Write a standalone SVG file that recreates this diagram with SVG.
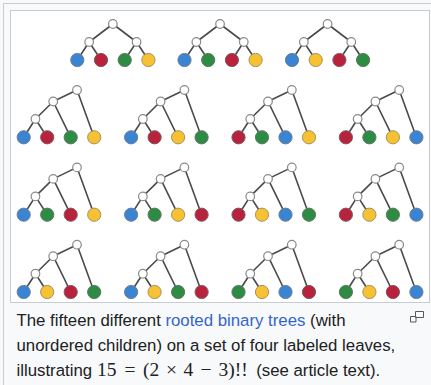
<svg xmlns="http://www.w3.org/2000/svg" width="431" height="385" viewBox="0 0 431 385">
<style>
.bg{fill:#f8f9fa;}
.outer{fill:#f8f9fa;stroke:#c8ccd1;stroke-width:1;}
.frame{fill:#ffffff;stroke:#c8ccd1;stroke-width:1;}
.edge{fill:none;stroke:#4a4a4a;stroke-width:1.6;stroke-linejoin:round;stroke-linecap:round;}
.in{fill:#ffffff;stroke:#8a8a8a;stroke-width:1.2;}
.B{fill:#3a84d4;stroke:#6f7f90;stroke-width:1;}
.R{fill:#b8223c;stroke:#7f5a60;stroke-width:1;}
.G{fill:#2e8b44;stroke:#5d7a62;stroke-width:1;}
.Y{fill:#f6c232;stroke:#a89060;stroke-width:1;}
.cap{font-family:"Liberation Sans",Arial,sans-serif;font-size:16.8px;fill:#202122;}
.link{fill:#3366cc;}
.math{font-family:"Liberation Serif","Times New Roman",serif;font-size:19.5px;}
.icon{fill:none;stroke:#54595d;stroke-width:1;}
</style>
<rect class="bg" x="0" y="0" width="431" height="385"/>
<rect class="outer" x="3.5" y="3.5" width="440" height="400"/>
<rect class="frame" x="10.5" y="10.5" width="419" height="292"/>

<g id="connectors">
<path class="edge" d="M77.3,60 L89.15,42 L101,60 M124.7,60 L136.55,42 L148.4,60 M89.15,42 L112.85,24 L136.55,42"/>
<path class="edge" d="M184.5,60 L196.35,42 L208.2,60 M231.9,60 L243.75,42 L255.6,60 M196.35,42 L220.05,24 L243.75,42"/>
<path class="edge" d="M292,60 L303.85,42 L315.7,60 M339.4,60 L351.25,42 L363.1,60 M303.85,42 L327.55,24 L351.25,42"/>

<path class="edge" d="M23.7,137.3 L35.45,119 L47.2,137.3 M35.45,119 L53.2,101.5 L70.7,137.3 M53.2,101.5 L77,90 L94.2,137.3"/>
<path class="edge" d="M131.1,137.3 L142.85,119 L154.6,137.3 M142.85,119 L160.6,101.5 L178.1,137.3 M160.6,101.5 L184.4,90 L201.6,137.3"/>
<path class="edge" d="M238.5,137.3 L250.25,119 L262,137.3 M250.25,119 L268,101.5 L285.5,137.3 M268,101.5 L291.8,90 L309,137.3"/>
<path class="edge" d="M345.9,137.3 L357.65,119 L369.4,137.3 M357.65,119 L375.4,101.5 L392.9,137.3 M375.4,101.5 L399.2,90 L416.4,137.3"/>

<path class="edge" d="M23.7,214.7 L35.45,196.4 L47.2,214.7 M35.45,196.4 L53.2,178.9 L70.7,214.7 M53.2,178.9 L77,167.4 L94.2,214.7"/>
<path class="edge" d="M131.1,214.7 L142.85,196.4 L154.6,214.7 M142.85,196.4 L160.6,178.9 L178.1,214.7 M160.6,178.9 L184.4,167.4 L201.6,214.7"/>
<path class="edge" d="M238.5,214.7 L250.25,196.4 L262,214.7 M250.25,196.4 L268,178.9 L285.5,214.7 M268,178.9 L291.8,167.4 L309,214.7"/>
<path class="edge" d="M345.9,214.7 L357.65,196.4 L369.4,214.7 M357.65,196.4 L375.4,178.9 L392.9,214.7 M375.4,178.9 L399.2,167.4 L416.4,214.7"/>

<path class="edge" d="M23.7,292 L35.45,273.7 L47.2,292 M35.45,273.7 L53.2,256.2 L70.7,292 M53.2,256.2 L77,244.7 L94.2,292"/>
<path class="edge" d="M131.1,292 L142.85,273.7 L154.6,292 M142.85,273.7 L160.6,256.2 L178.1,292 M160.6,256.2 L184.4,244.7 L201.6,292"/>
<path class="edge" d="M238.5,292 L250.25,273.7 L262,292 M250.25,273.7 L268,256.2 L285.5,292 M268,256.2 L291.8,244.7 L309,292"/>
<path class="edge" d="M345.9,292 L357.65,273.7 L369.4,292 M357.65,273.7 L375.4,256.2 L392.9,292 M375.4,256.2 L399.2,244.7 L416.4,292"/>
</g>

<g id="tree-1-1">
<circle class="in" cx="112.85" cy="24" r="4.3"/><circle class="in" cx="89.15" cy="42" r="4.3"/><circle class="in" cx="136.55" cy="42" r="4.3"/>
<circle class="B" cx="77.3" cy="60" r="6.6"/><circle class="R" cx="101" cy="60" r="6.6"/><circle class="G" cx="124.7" cy="60" r="6.6"/><circle class="Y" cx="148.4" cy="60" r="6.6"/>
</g>
<g id="tree-1-2">
<circle class="in" cx="220.05" cy="24" r="4.3"/><circle class="in" cx="196.35" cy="42" r="4.3"/><circle class="in" cx="243.75" cy="42" r="4.3"/>
<circle class="B" cx="184.5" cy="60" r="6.6"/><circle class="G" cx="208.2" cy="60" r="6.6"/><circle class="R" cx="231.9" cy="60" r="6.6"/><circle class="Y" cx="255.6" cy="60" r="6.6"/>
</g>
<g id="tree-1-3">
<circle class="in" cx="327.55" cy="24" r="4.3"/><circle class="in" cx="303.85" cy="42" r="4.3"/><circle class="in" cx="351.25" cy="42" r="4.3"/>
<circle class="B" cx="292" cy="60" r="6.6"/><circle class="Y" cx="315.7" cy="60" r="6.6"/><circle class="R" cx="339.4" cy="60" r="6.6"/><circle class="G" cx="363.1" cy="60" r="6.6"/>
</g>

<g id="tree-2-1">
<circle class="in" cx="77" cy="90" r="4.3"/><circle class="in" cx="53.2" cy="101.5" r="4.3"/><circle class="in" cx="35.45" cy="119" r="4.3"/>
<circle class="B" cx="23.7" cy="137.3" r="6.6"/><circle class="R" cx="47.2" cy="137.3" r="6.6"/><circle class="G" cx="70.7" cy="137.3" r="6.6"/><circle class="Y" cx="94.2" cy="137.3" r="6.6"/>
</g>
<g id="tree-2-2">
<circle class="in" cx="184.4" cy="90" r="4.3"/><circle class="in" cx="160.6" cy="101.5" r="4.3"/><circle class="in" cx="142.85" cy="119" r="4.3"/>
<circle class="B" cx="131.1" cy="137.3" r="6.6"/><circle class="R" cx="154.6" cy="137.3" r="6.6"/><circle class="Y" cx="178.1" cy="137.3" r="6.6"/><circle class="G" cx="201.6" cy="137.3" r="6.6"/>
</g>
<g id="tree-2-3">
<circle class="in" cx="291.8" cy="90" r="4.3"/><circle class="in" cx="268" cy="101.5" r="4.3"/><circle class="in" cx="250.25" cy="119" r="4.3"/>
<circle class="R" cx="238.5" cy="137.3" r="6.6"/><circle class="G" cx="262" cy="137.3" r="6.6"/><circle class="B" cx="285.5" cy="137.3" r="6.6"/><circle class="Y" cx="309" cy="137.3" r="6.6"/>
</g>
<g id="tree-2-4">
<circle class="in" cx="399.2" cy="90" r="4.3"/><circle class="in" cx="375.4" cy="101.5" r="4.3"/><circle class="in" cx="357.65" cy="119" r="4.3"/>
<circle class="R" cx="345.9" cy="137.3" r="6.6"/><circle class="G" cx="369.4" cy="137.3" r="6.6"/><circle class="Y" cx="392.9" cy="137.3" r="6.6"/><circle class="B" cx="416.4" cy="137.3" r="6.6"/>
</g>

<g id="tree-3-1">
<circle class="in" cx="77" cy="167.4" r="4.3"/><circle class="in" cx="53.2" cy="178.9" r="4.3"/><circle class="in" cx="35.45" cy="196.4" r="4.3"/>
<circle class="B" cx="23.7" cy="214.7" r="6.6"/><circle class="G" cx="47.2" cy="214.7" r="6.6"/><circle class="R" cx="70.7" cy="214.7" r="6.6"/><circle class="Y" cx="94.2" cy="214.7" r="6.6"/>
</g>
<g id="tree-3-2">
<circle class="in" cx="184.4" cy="167.4" r="4.3"/><circle class="in" cx="160.6" cy="178.9" r="4.3"/><circle class="in" cx="142.85" cy="196.4" r="4.3"/>
<circle class="B" cx="131.1" cy="214.7" r="6.6"/><circle class="G" cx="154.6" cy="214.7" r="6.6"/><circle class="Y" cx="178.1" cy="214.7" r="6.6"/><circle class="R" cx="201.6" cy="214.7" r="6.6"/>
</g>
<g id="tree-3-3">
<circle class="in" cx="291.8" cy="167.4" r="4.3"/><circle class="in" cx="268" cy="178.9" r="4.3"/><circle class="in" cx="250.25" cy="196.4" r="4.3"/>
<circle class="R" cx="238.5" cy="214.7" r="6.6"/><circle class="Y" cx="262" cy="214.7" r="6.6"/><circle class="B" cx="285.5" cy="214.7" r="6.6"/><circle class="G" cx="309" cy="214.7" r="6.6"/>
</g>
<g id="tree-3-4">
<circle class="in" cx="399.2" cy="167.4" r="4.3"/><circle class="in" cx="375.4" cy="178.9" r="4.3"/><circle class="in" cx="357.65" cy="196.4" r="4.3"/>
<circle class="R" cx="345.9" cy="214.7" r="6.6"/><circle class="Y" cx="369.4" cy="214.7" r="6.6"/><circle class="G" cx="392.9" cy="214.7" r="6.6"/><circle class="B" cx="416.4" cy="214.7" r="6.6"/>
</g>

<g id="tree-4-1">
<circle class="in" cx="77" cy="244.7" r="4.3"/><circle class="in" cx="53.2" cy="256.2" r="4.3"/><circle class="in" cx="35.45" cy="273.7" r="4.3"/>
<circle class="B" cx="23.7" cy="292" r="6.6"/><circle class="Y" cx="47.2" cy="292" r="6.6"/><circle class="R" cx="70.7" cy="292" r="6.6"/><circle class="G" cx="94.2" cy="292" r="6.6"/>
</g>
<g id="tree-4-2">
<circle class="in" cx="184.4" cy="244.7" r="4.3"/><circle class="in" cx="160.6" cy="256.2" r="4.3"/><circle class="in" cx="142.85" cy="273.7" r="4.3"/>
<circle class="B" cx="131.1" cy="292" r="6.6"/><circle class="Y" cx="154.6" cy="292" r="6.6"/><circle class="G" cx="178.1" cy="292" r="6.6"/><circle class="R" cx="201.6" cy="292" r="6.6"/>
</g>
<g id="tree-4-3">
<circle class="in" cx="291.8" cy="244.7" r="4.3"/><circle class="in" cx="268" cy="256.2" r="4.3"/><circle class="in" cx="250.25" cy="273.7" r="4.3"/>
<circle class="G" cx="238.5" cy="292" r="6.6"/><circle class="Y" cx="262" cy="292" r="6.6"/><circle class="B" cx="285.5" cy="292" r="6.6"/><circle class="R" cx="309" cy="292" r="6.6"/>
</g>
<g id="tree-4-4">
<circle class="in" cx="399.2" cy="244.7" r="4.3"/><circle class="in" cx="375.4" cy="256.2" r="4.3"/><circle class="in" cx="357.65" cy="273.7" r="4.3"/>
<circle class="G" cx="345.9" cy="292" r="6.6"/><circle class="Y" cx="369.4" cy="292" r="6.6"/><circle class="R" cx="392.9" cy="292" r="6.6"/><circle class="B" cx="416.4" cy="292" r="6.6"/>
</g>

<g id="caption">
<text class="cap" x="16.5" y="326">The fifteen different <tspan class="link">rooted binary trees</tspan> (with</text>
<text class="cap" x="16.5" y="351">unordered children) on a set of four labeled leaves,</text>
<text class="cap" x="16.5" y="376">illustrating<tspan class="math" x="97">15</tspan><tspan class="math" x="124.5">=</tspan><tspan class="math" x="143">(2</tspan><tspan class="math" x="166">×</tspan><tspan class="math" x="183.5">4</tspan><tspan class="math" x="200.5">−</tspan><tspan class="math" x="218.5">3)!!</tspan><tspan x="251.5"> (see article text).</tspan></text>
<path class="icon" d="M415.5,311.5 h8 v6 h-8 z M410.5,316.5 h5.5 v5.5 h-5.5 z"/>
</g>
</svg>
